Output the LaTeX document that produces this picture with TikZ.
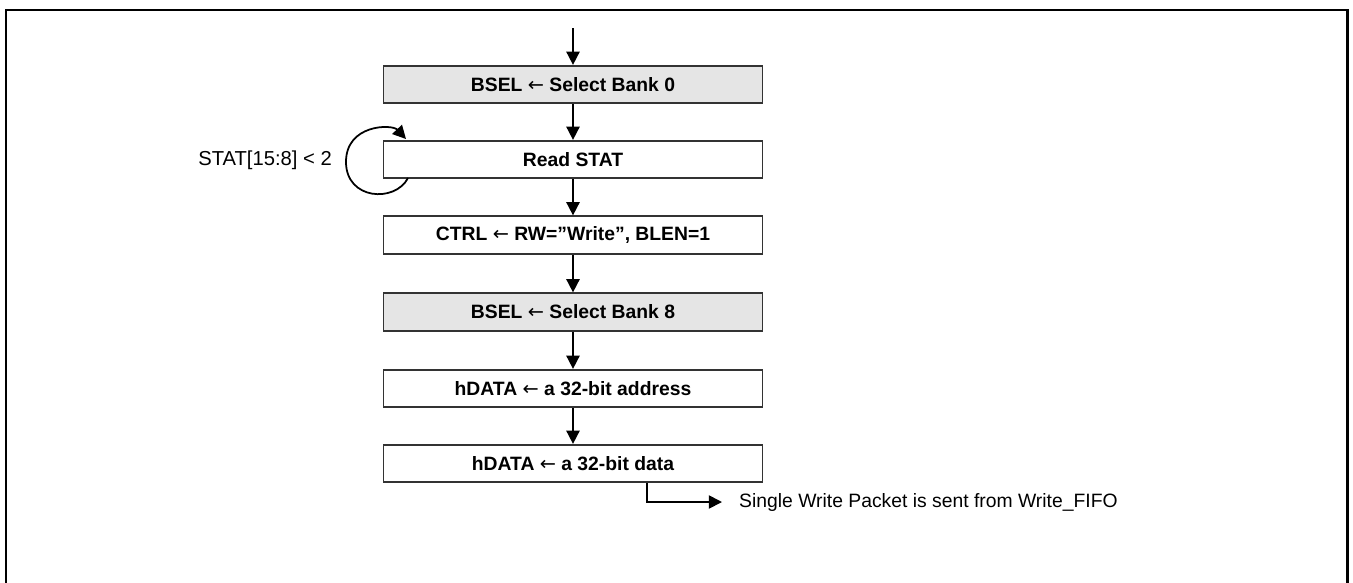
\documentclass[tikz,border=0pt]{standalone}
\usepackage{fontspec}
\setmainfont{Liberation Sans}
\newfontfamily\arrowfont{DejaVu Sans}
\newcommand{\getsarrow}{{\arrowfont\mdseries ←}}
\usetikzlibrary{arrows.meta}
\tikzset{
  every picture/.style={font=\fontsize{11}{13}\selectfont, line join=miter, >={Triangle[length=7.5pt,width=7.5pt]}},
  stepbox/.style={draw=black!80, line width=1pt, minimum width=7.58cm, minimum height=0.75cm, inner sep=0pt, font=\fontsize{11}{13}\selectfont\bfseries},
  bankbox/.style={stepbox, fill=black!10},
  flow/.style={->, line width=1pt},
}
\begin{document}
\begin{tikzpicture}[x=0.02cm,y=-0.02cm]
\useasboundingbox (0,0) rectangle (1353,582);
% frame
\draw[line width=1.7pt](6,590)--(6,10)--(1347,10)--(1347,590);
% steps
\coordinate (start) at (573,28);
\node[bankbox] (bank0) at (573,84.5) {BSEL \getsarrow{} Select Bank 0};
\node[stepbox] (stat) at (573,159.5) {Read STAT};
\node[stepbox] (ctrl) at (573,235) {CTRL \getsarrow{} RW=”Write”, BLEN=1};
\node[bankbox] (bank8) at (573,312) {BSEL \getsarrow{} Select Bank 8};
\node[stepbox] (addr) at (573,388.5) {hDATA \getsarrow{} a 32-bit address};
\node[stepbox] (data) at (573,463.5) {hDATA \getsarrow{} a 32-bit data};
\draw[flow](start)--(bank0.north);
\draw[flow](bank0)--(stat);
\draw[flow](stat)--(ctrl);
\draw[flow](ctrl)--(bank8);
\draw[flow](bank8)--(addr);
\draw[flow](addr)--(data);
% polling loop
\node[anchor=east,font=\fontsize{11.5}{13}\selectfont] (cond) at (338,160) {STAT[15:8] < 2};
\coordinate (loopout) at (408,178);
\coordinate (loopin) at (406,139);
\draw[flow](loopout) .. controls (395,203) and (346,200) .. (346,162)
  .. controls (346,124) and (392,124) .. (loopin);
% packet out
\coordinate (bend) at (647,502);
\node[anchor=west] (sent) at (733,502) {Single Write Packet is sent from Write\_FIFO};
\draw[flow](data.south -| bend)--(bend)--(sent.west -| 722,0);
\end{tikzpicture}
\end{document}
